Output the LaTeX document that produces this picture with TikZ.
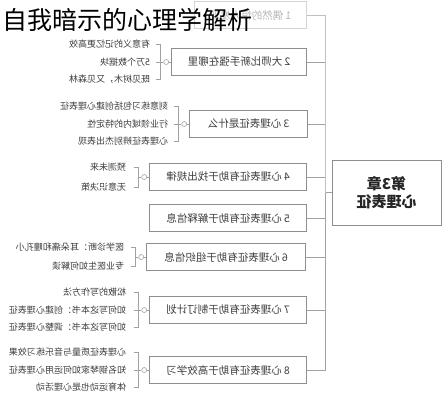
\documentclass[tikz,border=0pt]{standalone}
\usepackage{fontspec}
\usepackage{graphicx}
\newfontfamily\cjk{Noto Sans CJK SC}
\usetikzlibrary{calc}
\definecolor{boxgray}{HTML}{8E8E8E}
\definecolor{linegray}{HTML}{A2A2A2}
\definecolor{txtgray}{HTML}{3C3C3C}
\definecolor{fadegray}{HTML}{D4D4D4}
\definecolor{fadetxt}{HTML}{B8B8B8}
\newcommand\mirr[1]{\reflectbox{#1}}
\tikzset{
  branch/.style={draw=boxgray, line width=0.8pt, fill=white, minimum height=27pt,
    inner sep=0pt, anchor=east, text=txtgray, font=\cjk\fontsize{10.5}{12}\selectfont},
  leaf/.style={inner sep=0pt, anchor=east, text=txtgray, font=\cjk\fontsize{9}{11}\selectfont},
  knob/.style={circle, draw=linegray, line width=0.6pt, fill=white, minimum size=5pt, inner sep=0pt},
  link/.style={draw=linegray, line width=0.8pt},
  rootbox/.style={draw=boxgray, line width=0.9pt, fill=white, minimum width=109pt,
    minimum height=65pt, inner sep=0pt, align=center, text=black!85,
    font=\cjk\bfseries\fontsize{15}{18}\selectfont},
}
\begin{document}
\begin{tikzpicture}[x=1pt,y=-1pt]
\useasboundingbox (0,0) rectangle (443,400);
% root
\node[rootbox] (r) at (386.5,192.5) {\mirr{第3章}\\\mirr{心理表征}};
\coordinate (sp) at (325,192.5);
% branches
\node[branch, minimum width=112pt, draw=fadegray, text=fadetxt] (b1) at (307,15) {\mirr{1 偶然的惊人发现}};
\node[branch, minimum width=135pt] (b2) at (307,62) {\mirr{2 大师比新手强在哪里}};
\node[branch, minimum width=118pt] (b3) at (308,124) {\mirr{3 心理表征是什么}};
\node[branch, minimum width=157pt] (b4) at (307,177) {\mirr{4 心理表征有助于找出规律}};
\node[branch, minimum width=157pt] (b5) at (307,218) {\mirr{5 心理表征有助于解释信息}};
\node[branch, minimum width=159pt] (b6) at (306,257) {\mirr{6 心理表征有助于组织信息}};
\node[branch, minimum width=157pt] (b7) at (307,310) {\mirr{7 心理表征有助于制订计划}};
\node[branch, minimum width=157pt] (b8) at (307,370) {\mirr{8 心理表征有助于高效学习}};
\foreach \i in {2,...,8} {\draw[link] (b\i.east) -| (sp) -- (r.west);}
\draw[link, draw=fadegray!60!linegray] (b1.east) -| (sp);
% knobs
\foreach \i in {2,3,4,6,7,8} {
  \node[knob] (c\i) at ($(b\i.west)+(-5,0)$) {};
  \draw[link] (b\i.west) -- (c\i.east);
}
% leaves of 2
\node[leaf] (l21) at ($(b2.west)+(-21,-17.5)$) {\mirr{有意义的记忆更高效}};
\node[leaf] (l22) at ($(b2.west)+(-21,0)$) {\mirr{5万个数据块}};
\node[leaf] (l23) at ($(b2.west)+(-21,17.5)$) {\mirr{既见树木，又见森林}};
\draw[link] ([xshift=6pt]l21.east) -- ++(4,0) |- ([xshift=6pt]l23.east);
\draw[link] ([xshift=6pt]l22.east) -- (c2.west);
% leaves of 3
\node[leaf] (l31) at ($(b3.west)+(-21,-17.5)$) {\mirr{刻意练习包括创建心理表征}};
\node[leaf] (l32) at ($(b3.west)+(-21,0)$) {\mirr{行业领域内的特定性}};
\node[leaf] (l33) at ($(b3.west)+(-21,17.5)$) {\mirr{心理表征辨别杰出表现}};
\draw[link] ([xshift=6pt]l31.east) -- ++(4,0) |- ([xshift=6pt]l33.east);
\draw[link] ([xshift=6pt]l32.east) -- (c3.west);
% leaves of 4
\node[leaf] (l41) at ($(b4.west)+(-23,-10)$) {\mirr{预测未来}};
\node[leaf] (l42) at ($(b4.west)+(-23,10)$) {\mirr{无意识决策}};
\draw[link] ([xshift=8pt]l41.east) -- ++(4,0) |- ([xshift=8pt]l42.east);
\draw[link] (c4.west) -- ++(-3.5,0);
% leaves of 6
\node[leaf] (l61) at ($(b6.west)+(-22,-9.5)$) {\mirr{医学诊断：耳朵痛和瞳孔小}};
\node[leaf] (l62) at ($(b6.west)+(-22,9.5)$) {\mirr{专业医生如何解读}};
\draw[link] ([xshift=7pt]l61.east) -- ++(4,0) |- ([xshift=7pt]l62.east);
\draw[link] (c6.west) -- ++(-3.5,0);
% leaves of 7
\node[leaf] (l71) at ($(b7.west)+(-23,-17.5)$) {\mirr{松散的写作方法}};
\node[leaf] (l72) at ($(b7.west)+(-23,0)$) {\mirr{如何写这本书：创建心理表征}};
\node[leaf] (l73) at ($(b7.west)+(-23,17.5)$) {\mirr{如何写这本书：调整心理表征}};
\draw[link] ([xshift=8pt]l71.east) -- ++(4,0) |- ([xshift=8pt]l73.east);
\draw[link] ([xshift=8pt]l72.east) -- (c7.west);
% leaves of 8
\node[leaf] (l81) at ($(b8.west)+(-23,-17.5)$) {\mirr{心理表征质量与音乐练习效果}};
\node[leaf] (l82) at ($(b8.west)+(-23,0)$) {\mirr{知名钢琴家如何运用心理表征}};
\node[leaf] (l83) at ($(b8.west)+(-23,17.5)$) {\mirr{体育运动也是心理活动}};
\draw[link] ([xshift=8pt]l81.east) -- ++(4,0) |- ([xshift=8pt]l83.east);
\draw[link] ([xshift=8pt]l82.east) -- (c8.west);
% title
\node[anchor=west, inner sep=0pt, text=black, font=\cjk\fontsize{25}{28}\selectfont] (t) at (2,20) {自我暗示的心理学解析};
\end{tikzpicture}
\end{document}
